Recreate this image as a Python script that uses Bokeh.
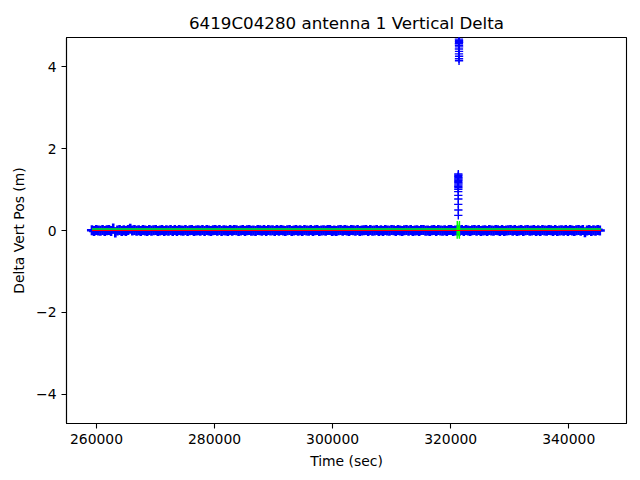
import numpy as np
from bokeh.plotting import figure
from bokeh.models import Range1d, FixedTicker, CustomJSTickFormatter
from bokeh.embed import file_html
from bokeh.resources import INLINE

# ---------------- data ----------------
TIME_START = 259230   # first epoch (sec)
TIME_STEP = 360       # epoch spacing (sec)

delta_vert = [
    0.005, -0.010, 0.010, 0.000, -0.005, 0.015, -0.010, 0.005, 0.010, -0.010, 0.050, -0.050, 0.000, 0.010, -0.015, 0.005, -0.010, 0.010, 0.045, 0.000,
    0.010, -0.005, 0.005, -0.015, 0.015, 0.000, -0.010, 0.010, -0.005, 0.005, 0.015, -0.010, 0.000, 0.010, -0.010, 0.005, -0.005, 0.010, -0.015, 0.010,
    -0.010, 0.015, 0.000, -0.005, 0.010, -0.015, 0.005, 0.010, -0.010, 0.000, 0.005, -0.005, 0.010, -0.015, 0.015, 0.000, -0.010, 0.005, 0.010, -0.005,
    0.015, -0.010, 0.005, 0.000, -0.015, 0.010, -0.005, 0.015, 0.005, -0.010, 0.000, 0.010, -0.015, 0.005, 0.015, -0.005, 0.000, -0.010, 0.010, 0.005,
    -0.005, 0.010, -0.015, 0.015, 0.000, 0.005, -0.010, 0.010, -0.005, 0.015, 0.000, -0.015, 0.005, 0.010, -0.010, 0.000, 0.015, -0.005, 0.005, -0.015,
    0.010, 0.000, -0.005, 0.015, -0.010, 0.005, 0.010, -0.015, 0.000, 0.005, -0.005, 0.015, 0.010, -0.010, 0.000, -0.015, 0.005, 0.010, -0.005, 0.015,
    0.000, -0.010, 0.015, 0.005, -0.005, 0.010, -0.015, 0.000, 0.005, 0.015, -0.010, 0.010, -0.005, 0.000, 0.015, -0.015, 0.005, -0.010, 0.010, 0.000,
    -0.005, 0.015, 0.005, -0.015, 0.010, 0.000, -0.010, 0.005, 0.015, -0.005, 0.010, -0.015, 0.000, 0.005, -0.010, 0.015, 0.010, -0.005, 0.000, -0.015,
    0.005, 0.010, -0.010, 0.015, 0.000, -0.005, 0.005, -0.015, 0.010, 0.015, -0.010, 0.000, 0.005, -0.005, 0.010, -0.015, 0.015, 0.000, -0.010, 0.005,
    0.010, -0.005, 0.015, -0.015, 0.000, 0.005, -0.010, 0.010, 0.000, -0.005, 0.015, 0.005, -0.015, 0.010, -0.010, 0.000, 0.005, 0.015, -0.005, 0.010,
    -0.015, 0.000, 0.010, -0.010, 0.005, 0.015, -0.005, 0.000, 0.010, -0.015, 0.005, -0.010, 0.015, 0.000, -0.005, 0.010, 0.005, -0.015, 0.015, -0.010,
    0.000, 0.005, -0.005, 0.010, -0.015, 0.015, 0.000, -0.010, 0.005, 0.010, -0.005, 0.015, -0.045, 0.000, 0.010, -0.010, 0.005, -0.005, 0.015, 0.000,
]

# outlier epochs around the anomaly
spike_time = [321400, 321420, 321410, 321430, 321400, 321415, 321425, 321405, 321420, 321410, 321430, 321415, 321420,
              321300, 321310, 321290, 321320, 321300, 321310, 321295, 321305, 321315, 321300, 321290, 321310,
              321300, 321285, 321295, 321300, 321290, 321305, 321295]
spike_vert = [4.68, 4.65, 4.62, 4.60, 4.57, 4.53, 4.49, 4.44, 4.38, 4.32, 4.26, 4.20, 4.15,
              1.38, 1.35, 1.32, 1.29, 1.26, 1.23, 1.20, 1.17, 1.14, 1.11, 1.08, 1.05,
              1.01, 0.95, 0.86, 0.77, 0.64, 0.50, 0.37]

# filtered series (green)
filt_time = [259230, 321100, 321110, 321120, 321480, 321490, 321500, 345480]
filt_vert = [0.035, 0.035, -0.20, 0.23, -0.20, 0.23, 0.035, 0.035]

# reference level (red)
ref_time = [259230, 345480]
ref_vert = [0.0, 0.0]

x_ticks = [260000, 280000, 300000, 320000, 340000]
y_ticks = [-4, -2, 0, 2, 4]

# ---------------- figure ----------------
time_sec = TIME_START + TIME_STEP * np.arange(len(delta_vert))

FONT = "DejaVu Sans"
p = figure(width=640, height=480, output_backend="svg", toolbar_location=None,
           title="6419C04280 antenna 1 Vertical Delta",
           x_range=Range1d(254918, 349791), y_range=Range1d(-4.72, 4.72),
           min_border_left=66, min_border_right=14, min_border_top=37, min_border_bottom=57)

p.background_fill_color = "white"
p.border_fill_color = "white"
p.outline_line_color = "black"
p.outline_line_width = 1.1
p.grid.visible = False

p.title.align = "center"
p.title.text_font = FONT
p.title.text_font_size = "16.7px"
p.title.text_font_style = "normal"
p.title.text_color = "black"

fmt = CustomJSTickFormatter(code="return String(tick).replace('-', '\u2212');")
for ax, ticks, label in ((p.xaxis[0], x_ticks, "Time (sec)"), (p.yaxis[0], y_ticks, "Delta Vert Pos (m)")):
    ax.ticker = FixedTicker(ticks=ticks)
    ax.formatter = fmt
    ax.axis_label = label
    ax.axis_label_text_font = FONT
    ax.axis_label_text_font_size = "13.9px"
    ax.axis_label_text_font_style = "normal"
    ax.axis_label_text_color = "black"
    ax.major_label_text_font = FONT
    ax.major_label_text_font_size = "13.9px"
    ax.major_label_text_color = "black"
    ax.major_tick_out = 5
    ax.major_tick_in = 0
    ax.minor_tick_out = 0
    ax.minor_tick_in = 0
    ax.major_label_standoff = 5
    ax.axis_label_standoff = 6
    ax.axis_line_width = 1.1
    ax.axis_line_color = "black"
    ax.major_tick_line_width = 1.1
    ax.major_tick_line_color = "black"

p.scatter(time_sec, delta_vert, marker="cross", size=10, line_color="#0000ff", line_width=2.6)
p.scatter(spike_time, spike_vert, marker="cross", size=8.3, line_color="#0000ff", line_width=1.4)
p.line(filt_time, filt_vert, line_color="#00ff00", line_width=1.4)
p.line(ref_time, ref_vert, line_color="#ff0000", line_width=1.2)

open("out.html", "w").write(file_html(p, INLINE))
